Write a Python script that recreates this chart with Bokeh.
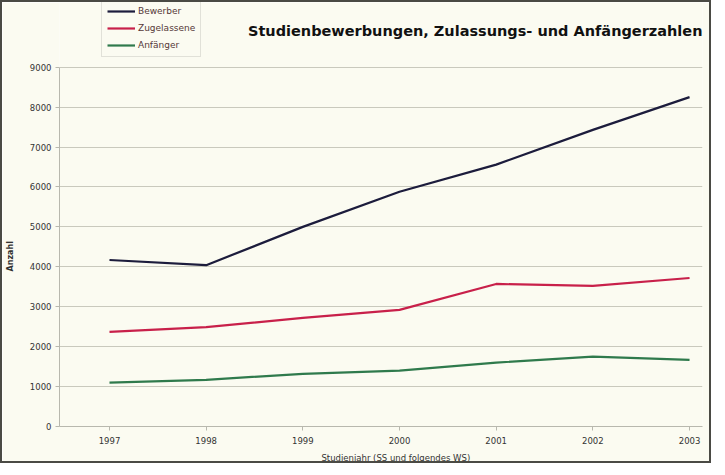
from bokeh.plotting import figure
from bokeh.models import Range1d, FixedTicker, Legend, LegendItem, Label
from bokeh.embed import file_html
from bokeh.resources import INLINE

years = [1997, 1998, 1999, 2000, 2001, 2002, 2003]
bewerber = [4170, 4040, 5000, 5880, 6560, 7430, 8250]
zugelassene = [2370, 2490, 2720, 2920, 3570, 3520, 3720]
anfaenger = [1100, 1170, 1320, 1400, 1600, 1750, 1670]
y_ticks = [0, 1000, 2000, 3000, 4000, 5000, 6000, 7000, 8000, 9000]
title_text = "Studienbewerbungen, Zulassungs- und Anfängerzahlen"
x_label = "Studienjahr  (SS und folgendes WS)"
y_label = "Anzahl"
series_names = ["Bewerber", "Zugelassene", "Anfänger"]
colors = ["#1c1c3c", "#c8204a", "#2f7a4c"]

BG = "#fbfbf1"
FONT = "DejaVu Sans"
NB = "\u00a0"

# frame spans the full figure height above the x axis; the value axis stops at 9000
p = figure(width=707, height=459, output_backend="svg", toolbar_location=None,
           x_range=Range1d(1996.483, 2003.134), y_range=Range1d(0, 10620),
           min_border_left=53, min_border_right=11, min_border_top=0, min_border_bottom=33,
           background_fill_color=BG, border_fill_color=BG, outline_line_color=None)
p.styles = {"border": "2px solid #4a4a44", "box-sizing": "content-box"}

renderers = []
for ys, c in zip([bewerber, zugelassene, anfaenger], colors):
    r = p.line(years, ys, line_color=c, line_width=2.2)
    renderers.append(r)

p.xaxis.ticker = FixedTicker(ticks=years)
p.yaxis.ticker = FixedTicker(ticks=y_ticks)
p.yaxis.bounds = (0, 9000)
p.xgrid.grid_line_color = None
p.ygrid.grid_line_color = "#c9c9bd"
p.ygrid.grid_line_width = 1

for ax in (p.xaxis[0], p.yaxis[0]):
    ax.axis_line_color = "#b8b8ae"
    ax.major_tick_line_color = "#b8b8ae"
    ax.minor_tick_line_color = None
    ax.major_tick_in = 0
    ax.major_tick_out = 4
    ax.major_label_text_font = FONT
    ax.major_label_text_font_size = "8.5px"
    ax.major_label_text_color = "#333333"
    ax.axis_label_text_font = FONT
    ax.axis_label_text_font_style = "normal"
    ax.axis_label_text_color = "#333333"

p.xaxis.major_label_standoff = 6
p.xaxis.axis_label = NB * 12 + x_label
p.xaxis.axis_label_text_font_size = "8.5px"
p.xaxis.axis_label_standoff = 6
p.yaxis.major_label_standoff = 4
p.yaxis.axis_label = y_label + NB * 30
p.yaxis.axis_label_text_font_size = "8px"
p.yaxis.axis_label_text_font_style = "bold"
p.yaxis.axis_label_standoff = 12

title = Label(x=2003.134, y=9900, text=title_text, text_align="right", text_baseline="middle",
              text_font=FONT, text_font_style="bold", text_font_size="14.5px",
              text_color="#111111")
p.add_layout(title)

legend = Legend(items=[LegendItem(label=n, renderers=[r]) for n, r in zip(series_names, renderers)],
                location=(42, 369), orientation="vertical",
                label_text_font=FONT, label_text_font_size="9px", label_text_color="#553838",
                glyph_width=28, glyph_height=12, spacing=5, padding=5, margin=0,
                label_standoff=3,
                border_line_color="#c8c8c0", background_fill_color=BG, background_fill_alpha=1)
p.add_layout(legend, "center")

open("out.html", "w").write(file_html(p, INLINE))
